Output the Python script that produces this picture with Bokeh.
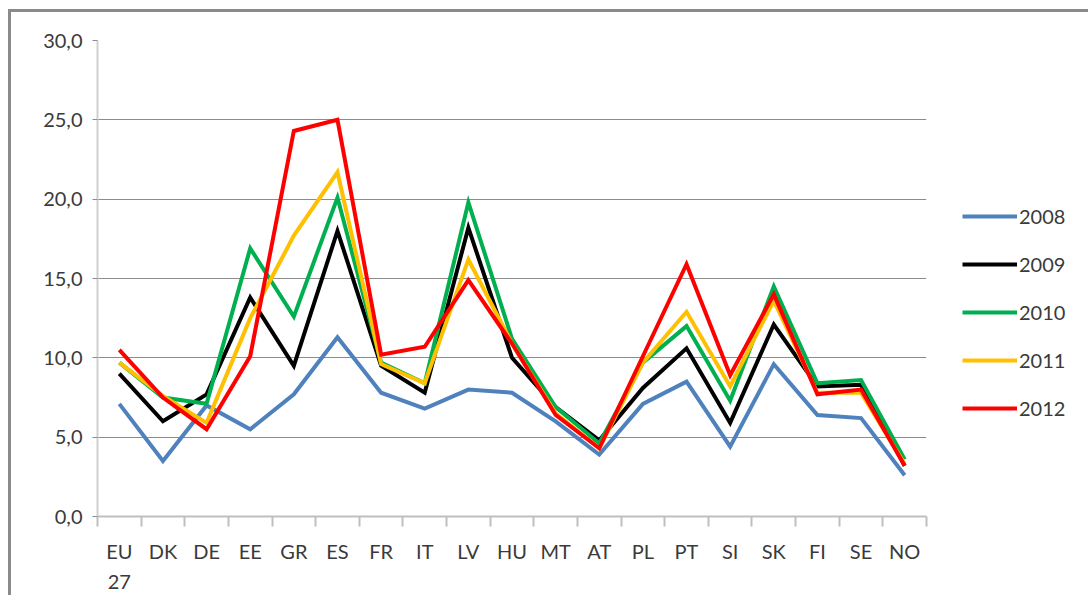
from bokeh.plotting import figure
from bokeh.models import FixedTicker, Legend, LegendItem, ColumnDataSource
from bokeh.embed import file_html
from bokeh.resources import INLINE

countries = ["EU27", "DK", "DE", "EE", "GR", "ES", "FR", "IT", "LV", "HU",
             "MT", "AT", "PL", "PT", "SI", "SK", "FI", "SE", "NO"]
country_labels = ["EU\n27", "DK", "DE", "EE", "GR", "ES", "FR", "IT", "LV", "HU",
                  "MT", "AT", "PL", "PT", "SI", "SK", "FI", "SE", "NO"]
years = ["2008", "2009", "2010", "2011", "2012"]
y2008 = [7.1, 3.5, 7.0, 5.5, 7.7, 11.3, 7.8, 6.8, 8.0, 7.8, 6.0, 3.9, 7.1, 8.5, 4.4, 9.6, 6.4, 6.2, 2.6]
y2009 = [9.0, 6.0, 7.7, 13.8, 9.5, 18.0, 9.5, 7.8, 18.2, 10.0, 6.9, 4.8, 8.1, 10.6, 5.9, 12.1, 8.2, 8.3, 3.2]
y2010 = [9.7, 7.5, 7.1, 16.9, 12.6, 20.1, 9.7, 8.4, 19.8, 11.2, 6.9, 4.6, 9.7, 12.0, 7.3, 14.5, 8.4, 8.6, 3.6]
y2011 = [9.7, 7.6, 5.9, 12.5, 17.7, 21.7, 9.6, 8.4, 16.2, 10.9, 6.5, 4.3, 9.7, 12.9, 8.2, 13.6, 7.8, 7.8, 3.3]
y2012 = [10.5, 7.5, 5.5, 10.1, 24.3, 25.0, 10.2, 10.7, 14.9, 10.9, 6.4, 4.3, 10.1, 15.9, 8.9, 14.0, 7.7, 8.0, 3.2]
y_ticks = [0, 5, 10, 15, 20, 25, 30]
y_tick_labels = ["0,0", "5,0", "10,0", "15,0", "20,0", "25,0", "30,0"]

series = [y2008, y2009, y2010, y2011, y2012]
colors = ["#4F81BD", "#000000", "#00B050", "#FFC000", "#FF0000"]

FONT = "Lato"
TXT = "#3a3a3a"

n = len(countries)
xs = list(range(n))

p = figure(output_backend="svg", toolbar_location=None,
           x_range=(-0.5, n - 0.5), y_range=(0, 30),
           frame_width=829, frame_height=476,
           min_border_left=86, min_border_top=28, min_border_right=6, min_border_bottom=0)
p.outline_line_color = None
p.background_fill_color = "white"
p.border_fill_color = "white"
p.styles = {"border-left": "3px solid #8a8a8a", "border-top": "3px solid #8a8a8a",
            "margin-top": "9px", "margin-left": "8px"}

renderers = []
for ys, c in zip(series, colors):
    src = ColumnDataSource(dict(x=xs, y=ys))
    r = p.line("x", "y", source=src, line_color=c, line_width=4, line_join="miter")
    renderers.append(r)

# x axis
p.xaxis.ticker = FixedTicker(ticks=xs, minor_ticks=[i - 0.5 for i in range(n + 1)])
p.xaxis.major_label_overrides = {i: lab for i, lab in enumerate(country_labels)}
p.xaxis.major_tick_out = 0
p.xaxis.major_tick_in = 0
p.xaxis.minor_tick_out = 10
p.xaxis.minor_tick_in = 0
p.xaxis.minor_tick_line_color = "#bfbfbf"
p.xaxis.minor_tick_line_width = 2
p.xaxis.axis_line_color = "#bfbfbf"
p.xaxis.axis_line_width = 2
p.xaxis.major_label_text_font = FONT
p.xaxis.major_label_text_font_size = "20px"
p.xaxis.major_label_text_color = TXT
p.xaxis.major_label_text_line_height = 1.25
p.xaxis.major_label_standoff = 12

# y axis
p.yaxis.ticker = FixedTicker(ticks=y_ticks, minor_ticks=[])
p.yaxis.major_label_overrides = {t: lab for t, lab in zip(y_ticks, y_tick_labels)}
p.yaxis.axis_line_color = "#d0d0d0"
p.yaxis.axis_line_width = 2
p.yaxis.major_tick_out = 5
p.yaxis.major_tick_in = 0
p.yaxis.major_tick_line_color = "#8c8c8c"
p.yaxis.major_label_text_font = FONT
p.yaxis.major_label_text_font_size = "20px"
p.yaxis.major_label_text_color = TXT
p.yaxis.major_label_standoff = 10

p.xgrid.grid_line_color = None
p.ygrid.ticker = FixedTicker(ticks=y_ticks[1:])
p.ygrid.grid_line_color = "#8c8c8c"
p.ygrid.grid_line_width = 1

legend = Legend(items=[LegendItem(label=y, renderers=[r]) for y, r in zip(years, renderers)],
                location=(36, 96), orientation="vertical",
                glyph_width=55, glyph_height=20, label_height=20, spacing=24,
                padding=0, margin=0, label_standoff=2,
                label_text_font=FONT, label_text_font_size="20px", label_text_color=TXT,
                border_line_color=None, background_fill_alpha=0)
p.add_layout(legend, "right")

open("out.html", "w").write(file_html(p, INLINE))
